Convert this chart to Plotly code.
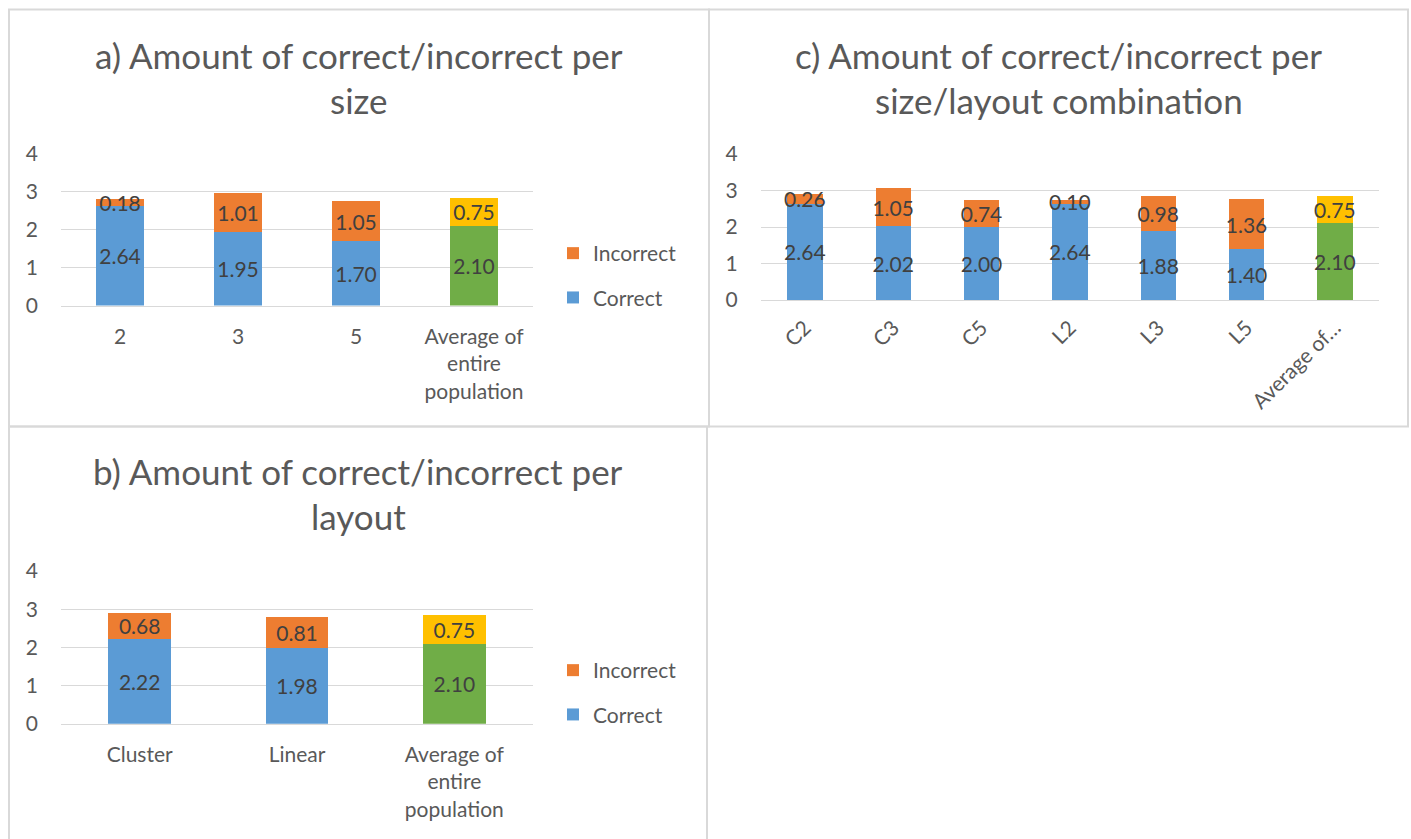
import plotly.graph_objects as go

# ---------------- data ----------------
size_cats = ["2", "3", "5", "Average of entire population"]
size_tick_labels = ["2", "3", "5", "Average of<br>entire<br>population"]
size_correct = [2.64, 1.95, 1.70, 2.10]
size_incorrect = [0.18, 1.01, 1.05, 0.75]

layout_cats = ["Cluster", "Linear", "Average of entire population"]
layout_tick_labels = ["Cluster", "Linear", "Average of<br>entire<br>population"]
layout_correct = [2.22, 1.98, 2.10]
layout_incorrect = [0.68, 0.81, 0.75]

combo_cats = ["C2", "C3", "C5", "L2", "L3", "L5", "Average of entire population"]
combo_tick_labels = ["C2", "C3", "C5", "L2", "L3", "L5", "Average of\u2026"]
combo_correct = [2.64, 2.02, 2.00, 2.64, 1.88, 1.40, 2.10]
combo_incorrect = [0.26, 1.05, 0.74, 0.10, 0.98, 1.36, 0.75]

y_tick_values = [0, 1, 2, 3, 4]

title_a = ["a) Amount of correct/incorrect per", "size"]
title_b = ["b) Amount of correct/incorrect per", "layout"]
title_c = ["c) Amount of correct/incorrect per", "size/layout combination"]

# ---------------- style ----------------
W, H = 1411, 839
FONT = "Lato, 'Open Sans', sans-serif"
TXT = "#595959"
LBL = "#404040"
GRID = "#D9D9D9"
BLUE, ORANGE, GREEN, GOLD = "#5B9BD5", "#ED7D31", "#70AD47", "#FFC000"
TICK_SIZE = 21
TITLE_SIZE = 35


def px_x(p):
    return p / W


def px_y(p):
    return 1 - p / H


fig = go.Figure()


def add_pair(cats, corr, inc, xa, ya, legend, show, tag):
    n = len(cats)
    for name, vals, cols, rank in (
        ("Correct", corr, [BLUE] * (n - 1) + [GREEN], 2),
        ("Incorrect", inc, [ORANGE] * (n - 1) + [GOLD], 1),
    ):
        fig.add_trace(go.Bar(
            x=cats, y=vals, name=name,
            marker=dict(color=cols, line=dict(width=0)),
            text=[f"{v:.2f}" for v in vals],
            textposition="inside", insidetextanchor="middle",
            textangle=0, constraintext="none",
            textfont=dict(family=FONT, size=TICK_SIZE, color=LBL),
            xaxis=xa, yaxis=ya, legend=legend, showlegend=show,
            legendgroup=name + tag, legendrank=rank, hoverinfo="skip",
        ))


add_pair(size_cats, size_correct, size_incorrect, "x", "y", "legend", True, "a")
add_pair(combo_cats, combo_correct, combo_incorrect, "x2", "y2", "legend", False, "c")
add_pair(layout_cats, layout_correct, layout_incorrect, "x3", "y3", "legend2", True, "b")

tickfont = dict(family=FONT, size=TICK_SIZE, color=TXT)


def xaxis(domain, anchor, cats, labels, angle=0, standoff=12):
    return dict(domain=domain, anchor=anchor, type="category",
                tickvals=cats, ticktext=labels, tickangle=angle,
                tickfont=tickfont, showgrid=False, showline=True,
                linecolor=GRID, linewidth=1.4, ticks="", automargin=False,
                ticklabelstandoff=standoff, fixedrange=True)


def yaxis(domain, anchor):
    return dict(domain=domain, anchor=anchor, range=[0, 4],
                tickvals=y_tick_values, tickfont=tickfont,
                showgrid=True, gridcolor=GRID, gridwidth=1.4,
                zeroline=False, showline=False, ticks="", automargin=False,
                ticklabelstandoff=22, fixedrange=True)


a_x = [px_x(61), px_x(533)]
a_y = [px_y(305.5), px_y(154)]
c_x = [px_x(760.7), px_x(1379)]
c_y = [px_y(300), px_y(154)]
b_x = [px_x(61), px_x(533)]
b_y = [px_y(723.7), px_y(571)]

legend_font = dict(family=FONT, size=TICK_SIZE, color=TXT)

fig.update_layout(
    template="none",
    width=W, height=H, autosize=False,
    margin=dict(l=0, r=0, t=0, b=0, pad=0, autoexpand=False),
    paper_bgcolor="white", plot_bgcolor="white",
    barmode="stack", bargap=0.6,
    font=dict(family=FONT, color=TXT),
    xaxis=xaxis(a_x, "y", size_cats, size_tick_labels),
    yaxis=yaxis(a_y, "x"),
    xaxis2=xaxis(c_x, "y2", combo_cats, combo_tick_labels, angle=-45, standoff=6),
    yaxis2=yaxis(c_y, "x2"),
    xaxis3=xaxis(b_x, "y3", layout_cats, layout_tick_labels),
    yaxis3=yaxis(b_y, "x3"),
    legend=dict(x=px_x(553), y=px_y(233), xanchor="left", yanchor="top",
                traceorder="grouped", tracegroupgap=14,
                font=legend_font, bgcolor="rgba(0,0,0,0)"),
    legend2=dict(x=px_x(553), y=px_y(650), xanchor="left", yanchor="top",
                 traceorder="grouped", tracegroupgap=14,
                 font=legend_font, bgcolor="rgba(0,0,0,0)"),
)

# titles (one annotation per line)
anns = []
for lines, cx, top in ((title_a, 359, 55), (title_c, 1058.5, 55), (title_b, 358, 471)):
    for i, line in enumerate(lines):
        anns.append(dict(
            text=line, x=px_x(cx), y=px_y(top + 45 * i), xref="paper", yref="paper",
            xanchor="center", yanchor="middle", showarrow=False,
            font=dict(family=FONT, size=TITLE_SIZE, color=TXT),
        ))
fig.update_layout(annotations=anns)

# panel borders
shapes = []
for x0, y0, x1, y1 in ((9, 9.5, 709, 426.5), (709, 9.5, 1408, 426.5), (9, 426.5, 707, 845)):
    shapes.append(dict(type="rect", xref="paper", yref="paper",
                       x0=px_x(x0), x1=px_x(x1), y0=px_y(y0), y1=px_y(y1),
                       line=dict(color=GRID, width=2), fillcolor="rgba(0,0,0,0)",
                       layer="below"))
fig.update_layout(shapes=shapes)

fig.write_html("out.html", config={"displayModeBar": False})
